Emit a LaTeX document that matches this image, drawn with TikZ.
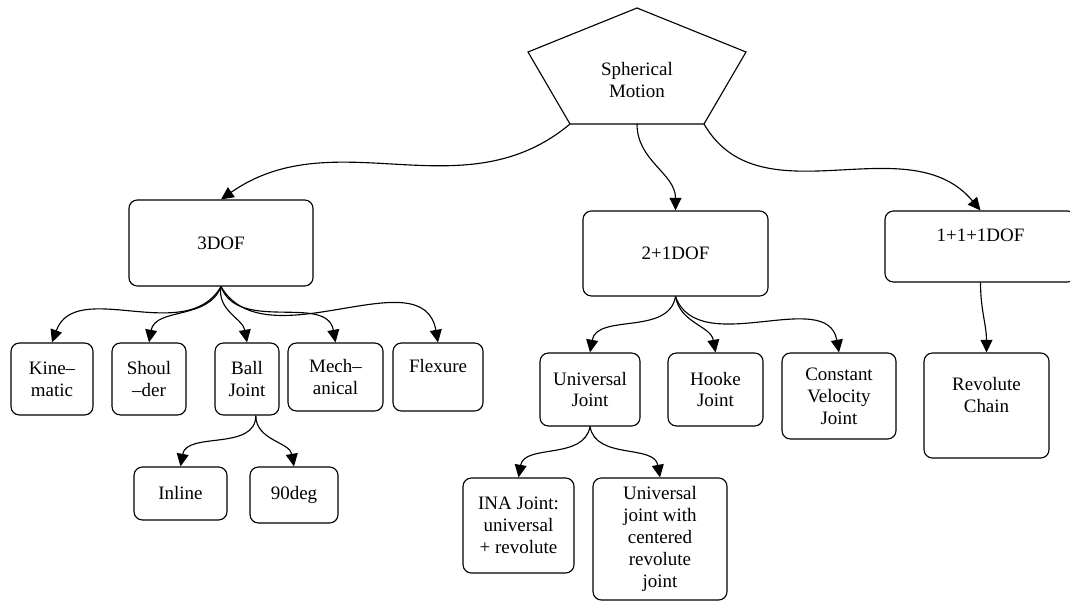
\documentclass[tikz,border=0pt]{standalone}
\usepackage{fontspec}
\setmainfont{Liberation Serif}
\usetikzlibrary{arrows.meta}
\newcommand{\jfont}{\fontsize{13.5}{15.6}\selectfont}
\tikzset{
  jbox/.style={draw,rounded corners=6pt,line width=0.8pt,align=center,inner sep=2pt,font=\jfont},
  jflow/.style={-{Triangle[length=9pt,width=8.5pt]},line width=0.8pt},
  jpent/.style={draw,line width=0.8pt,line join=miter},
}

\begin{document}
\begin{tikzpicture}[x=0.025cm,y=0.025cm]
\clip (0,0) rectangle (1070,-602);
% root
\draw[jpent] (637,-8) -- (746,-52) -- (704,-124) -- (570,-124) -- (528,-52) -- cycle;
\node[font=\jfont,align=center] (sph) at (637,-80) {Spherical\\Motion};
\coordinate (sphl) at (570,-124);
\coordinate (sphm) at (637,-124);
\coordinate (sphr) at (704,-124);

% degrees of freedom
\node[jbox,minimum width=4.6cm,minimum height=2.15cm] (dof3) at (221,-243) {3DOF};
\node[jbox,minimum width=4.625cm,minimum height=2.125cm] (dof21) at (675.5,-253.5) {2+1DOF};
\node[jbox,minimum width=4.775cm,minimum height=1.775cm] (dof111) at (980.5,-246.5) {1+1+1DOF\\\mbox{}};
\draw[jflow] (sphl) to[out=-140,in=35] (dof3.north);
\draw[jflow] (sphm) to[out=-90,in=90] (dof21.north);
\draw[jflow] (sphr) to[out=-60,in=130] (dof111.north);

% 3DOF branch
\node[jbox,minimum width=2.05cm,minimum height=1.8cm] (kin) at (52,-379) {Kine–\\matic};
\node[jbox,minimum width=1.85cm,minimum height=1.8cm] (sho) at (149,-379) {Shoul\\–der};
\node[jbox,minimum width=1.6cm,minimum height=1.8cm] (ball) at (247,-379) {Ball\\Joint};
\node[jbox,minimum width=2.375cm,minimum height=1.7cm] (mech) at (335.5,-377) {Mech–\\anical};
\node[jbox,minimum width=2.25cm,minimum height=1.7cm] (flex) at (438,-377) {Flexure\\\mbox{}};
\draw[jflow] (dof3.south) to[out=-120,in=70] (kin.north);
\draw[jflow] (dof3.south) to[out=-110,in=80] (sho.north);
\draw[jflow] (dof3.south) to[out=-100,in=100] (ball.north);
\draw[jflow] (dof3.south) to[out=-70,in=100] (mech.north);
\draw[jflow] (dof3.south) to[out=-60,in=100] (flex.north);

\node[jbox,minimum width=2.325cm,minimum height=1.325cm] (inl) at (180.5,-493.5) {Inline};
\node[jbox,minimum width=2.2cm,minimum height=1.4cm] (deg) at (294,-495) {90deg};
\draw[jflow] ([xshift=0.22cm]ball.south) to[out=-90,in=80] (inl.north);
\draw[jflow] ([xshift=0.22cm]ball.south) to[out=-90,in=100] (deg.north);

% 2+1DOF branch
\node[jbox,minimum width=2.5cm,minimum height=1.825cm] (uni) at (590,-389.5) {Universal\\Joint};
\node[jbox,minimum width=2.375cm,minimum height=1.825cm] (hoo) at (715.5,-389.5) {Hooke\\Joint};
\node[jbox,minimum width=2.85cm,minimum height=2.15cm] (cvj) at (839,-396) {Constant\\Velocity\\Joint};
\draw[jflow] (dof21.south) to[out=-100,in=80] (uni.north);
\draw[jflow] (dof21.south) to[out=-80,in=100] (hoo.north);
\draw[jflow] (dof21.south) to[out=-70,in=100] (cvj.north);

\node[jbox,minimum width=2.775cm,minimum height=2.375cm] (ina) at (518.5,-525.5) {INA Joint:\\universal\\+ revolute};
\node[jbox,minimum width=3.35cm,minimum height=3.05cm] (ujc) at (660,-539) {Universal\\joint with\\centered\\revolute\\joint};
\draw[jflow] (uni.south) to[out=-100,in=80] (ina.north);
\draw[jflow] (uni.south) to[out=-80,in=100] (ujc.north);

% 1+1+1DOF branch
\node[jbox,minimum width=3.125cm,minimum height=2.625cm] (rev) at (986.5,-405.5) {Revolute\\Chain\\\mbox{}};
\draw[jflow] (dof111.south) to[out=-90,in=90] (rev.north);
\end{tikzpicture}
\end{document}
